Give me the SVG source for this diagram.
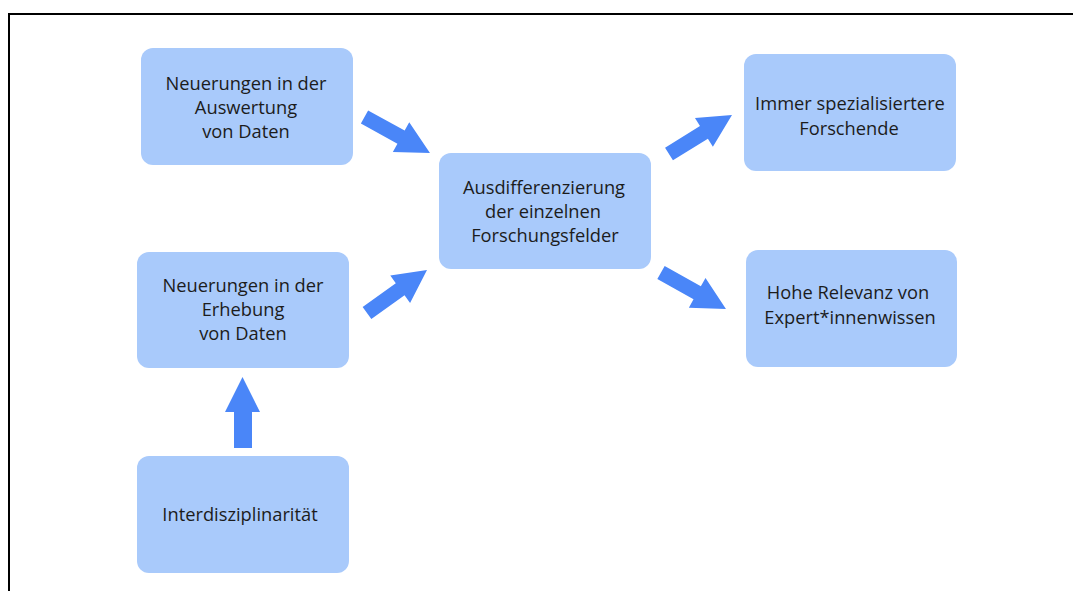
<svg xmlns="http://www.w3.org/2000/svg" width="1073" height="591" viewBox="0 0 1073 591">
<style>
.box{fill:#a9cafb;}
.t{font-family:"Open Sans","Liberation Sans",sans-serif;font-size:18.3px;fill:#1c1c1c;text-anchor:middle;}
.arr{fill:#4a86f8;}
</style>
<rect width="1073" height="591" fill="#ffffff"/>
<path d="M9,591 V14 H1073" fill="none" stroke="#000" stroke-width="2"/>
<g id="n1"><rect class="box" x="141" y="48" width="212" height="117" rx="12"/>
<text class="t" x="246" y="89.5">Neuerungen in der</text><text class="t" x="246" y="113.5">Auswertung</text><text class="t" x="246" y="137.5">von Daten</text></g>
<g id="n2"><rect class="box" x="439" y="153" width="212" height="116" rx="12"/>
<text class="t" x="544" y="193.5">Ausdifferenzierung</text><text class="t" x="543" y="217.5">der einzelnen</text><text class="t" x="545" y="241.5">Forschungsfelder</text></g>
<g id="n3"><rect class="box" x="744" y="54" width="212" height="117" rx="12"/>
<text class="t" x="850" y="109.5">Immer spezialisiertere</text><text class="t" x="849" y="134.5">Forschende</text></g>
<g id="n4"><rect class="box" x="746" y="250" width="211" height="117" rx="12"/>
<text class="t" x="848" y="298.5">Hohe Relevanz von</text><text class="t" x="850" y="323.5">Expert*innenwissen</text></g>
<g id="n5"><rect class="box" x="137" y="252" width="212" height="116" rx="12"/>
<text class="t" x="243" y="291.5">Neuerungen in der</text><text class="t" x="243" y="315.5">Erhebung</text><text class="t" x="243" y="339.5">von Daten</text></g>
<g id="n6"><rect class="box" x="137" y="456" width="212" height="117" rx="12"/>
<text class="t" x="240" y="520.5">Interdisziplinarität</text></g>
<g id="connectors">
<path class="arr" transform="translate(364.5,117) rotate(28.8)" d="M0,-7.5 H41.7 V-17 L74.7,0 L41.7,17 V7.5 H0 Z"/>
<path class="arr" transform="translate(367,313) rotate(-35.6)" d="M0,-7.5 H40.8 V-17 L73.8,0 L40.8,17 V7.5 H0 Z"/>
<path class="arr" transform="translate(669,154) rotate(-31.8)" d="M0,-7.5 H41.1 V-17 L74.1,0 L41.1,17 V7.5 H0 Z"/>
<path class="arr" transform="translate(661,272.5) rotate(29.3)" d="M0,-7.5 H41.5 V-17 L74.5,0 L41.5,17 V7.5 H0 Z"/>
<path class="arr" d="M234,448 V412 H225 L242.5,377 L260,412 H252 V448 Z"/>
</g>
</svg>
